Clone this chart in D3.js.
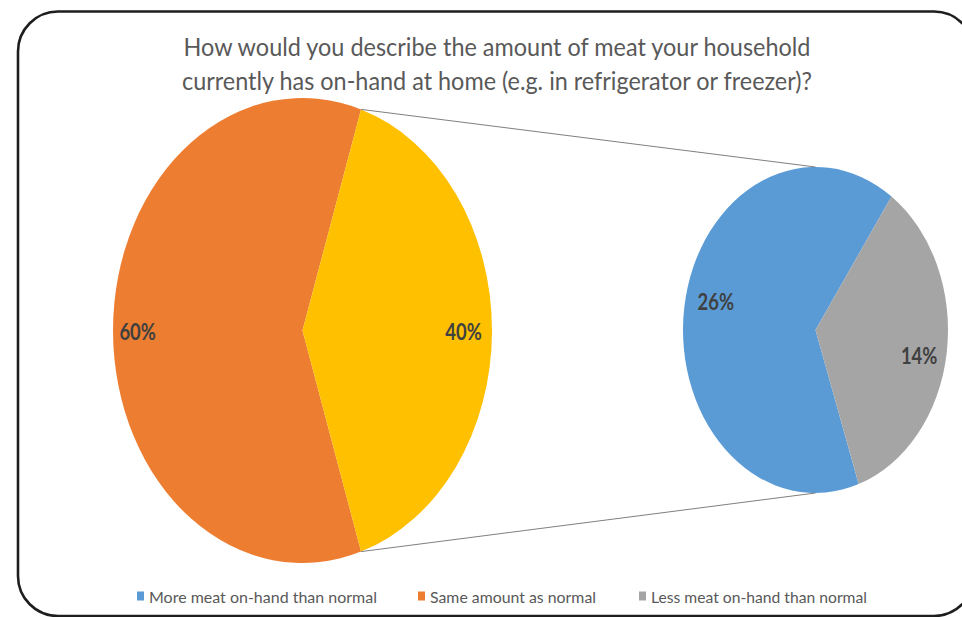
<!DOCTYPE html>
<html>
<head>
<meta charset="utf-8">
<script src="https://cdn.jsdelivr.net/npm/d3@7"></script>
<style>
  html, body { margin: 0; padding: 0; background: #fff; }
  svg { display: block; }
</style>
</head>
<body>
<svg id="chart" width="962" height="617"></svg>
<script>
// ---------------- data ----------------
const titleLines = [
  "How would you describe the amount of meat your household",
  "currently has on-hand at home (e.g. in refrigerator or freezer)?"
];
const categories = ["More meat on-hand than normal", "Same amount as normal", "Less meat on-hand than normal"];
const values = [26, 60, 14];            // percent
const colors = ["#5B9BD5", "#ED7D31", "#A5A5A5"];
const otherColor = "#FFC000";
// primary pie: "Same amount" + combined other; secondary pie splits the other
const primaryCats = ["Same amount as normal", "Other"];
const secondaryCats = ["More meat on-hand than normal", "Less meat on-hand than normal"];

// ---------------- layout ----------------
const svg = d3.select("#chart");

// border
svg.append("rect")
  .attr("x", 18).attr("y", 11.5).attr("width", 956).attr("height", 604.5)
  .attr("rx", 40).attr("ry", 40)
  .attr("fill", "none").attr("stroke", "#1e1e1e").attr("stroke-width", 2.6);

// title
const titleY = [46, 80];
const titleLen = [627, 630];
titleLines.forEach((t, i) => {
  svg.append("text")
    .attr("x", 497).attr("y", titleY[i])
    .attr("text-anchor", "middle").attr("dominant-baseline", "central")
    .attr("font-family", "Lato, 'Open Sans', sans-serif")
    .attr("font-size", 25).attr("fill", "#595959")
    .attr("textLength", titleLen[i]).attr("lengthAdjust", "spacingAndGlyphs")
    .text(t);
});

const valOf = c => values[categories.indexOf(c)];
const colOf = c => colors[categories.indexOf(c)];
const otherTotal = d3.sum(secondaryCats, valOf);
const primaryVals = [valOf("Same amount as normal"), otherTotal];
const secondaryVals = secondaryCats.map(valOf);

const deg = Math.PI / 180;

function drawPie(cfg) {
  const { cx, cy, rx, ry, vals, cols, start, labelK } = cfg;
  const pie = d3.pie().sort(null).value(d => d)
    .startAngle(start).endAngle(start + 2 * Math.PI);
  const arcs = pie(vals);
  const arc = d3.arc().innerRadius(0).outerRadius(ry);
  const g = svg.append("g")
    .attr("transform", `translate(${cx},${cy}) scale(${rx / ry},1)`);
  g.selectAll("path").data(arcs).join("path")
    .attr("d", arc)
    .attr("fill", (d, i) => cols[i]);
  // labels
  arcs.forEach((a, i) => {
    const m = (a.startAngle + a.endAngle) / 2;
    const k = labelK[i];
    const lx = cx + Math.sin(m) * rx * k[0];
    const ly = cy - Math.cos(m) * ry * k[1];
    svg.append("text")
      .attr("x", lx).attr("y", ly)
      .attr("text-anchor", "middle").attr("dominant-baseline", "central")
      .attr("font-family", "Lato, 'Open Sans', sans-serif")
      .attr("font-weight", "bold").attr("font-size", 20)
      .attr("fill", "#404040")
      .attr("transform", `translate(${lx},${ly}) scale(0.92,1.15) translate(${-lx},${-ly})`)
      .text(Math.round(vals[i]) + "%");
  });
  return arcs;
}

// primary (left) pie: "other" slice centred on 3 o'clock
const P = { cx: 302.5, cy: 330.5, rx: 189.5, ry: 232.5 };
const otherSpan = (otherTotal / d3.sum(primaryVals)) * 2 * Math.PI;
const pStart = Math.PI / 2 + otherSpan / 2;
const pArcs = drawPie({ ...P, vals: primaryVals, cols: [colOf("Same amount as normal"), otherColor],
  start: pStart, labelK: [[0.87, 1], [0.85, 1]] });

// secondary (right) pie
const S = { cx: 815.5, cy: 330, rx: 132.5, ry: 163 };
const lessSpan = (valOf("Less meat on-hand than normal") / otherTotal) * 2 * Math.PI;
const sStart = 35 * deg + lessSpan; // blue starts where grey ends
const sArcs = drawPie({ ...S, vals: secondaryVals, cols: secondaryCats.map(colOf),
  start: sStart, labelK: [[0.76, 1.3], [0.79, 1.1]] });

// connector lines: from the edges of the "other" slice to top/bottom of the secondary pie
const oa = pArcs[1];
const pt = (c, a) => [c.cx + Math.sin(a) * c.rx, c.cy - Math.cos(a) * c.ry];
const topP = pt(P, oa.startAngle), botP = pt(P, oa.endAngle);
const topS = pt(S, 0), botS = pt(S, Math.PI);
[[topP, topS], [botP, botS]].forEach(([a, b]) => {
  svg.append("line")
    .attr("x1", a[0]).attr("y1", a[1]).attr("x2", b[0]).attr("y2", b[1])
    .attr("stroke", "#7f7f7f").attr("stroke-width", 1);
});

// legend
const legendX = [137, 418, 639];
const legendLen = [228, 166, 216];
const legendY = 596;
categories.forEach((c, i) => {
  svg.append("rect")
    .attr("x", legendX[i]).attr("y", legendY - 4.5)
    .attr("width", 7).attr("height", 9)
    .attr("fill", colors[i]);
  svg.append("text")
    .attr("x", legendX[i] + 12).attr("y", legendY)
    .attr("dominant-baseline", "central")
    .attr("font-family", "Lato, 'Open Sans', sans-serif")
    .attr("font-size", 16).attr("fill", "#595959")
    .attr("textLength", legendLen[i]).attr("lengthAdjust", "spacingAndGlyphs")
    .text(c);
});
</script>
</body>
</html>
